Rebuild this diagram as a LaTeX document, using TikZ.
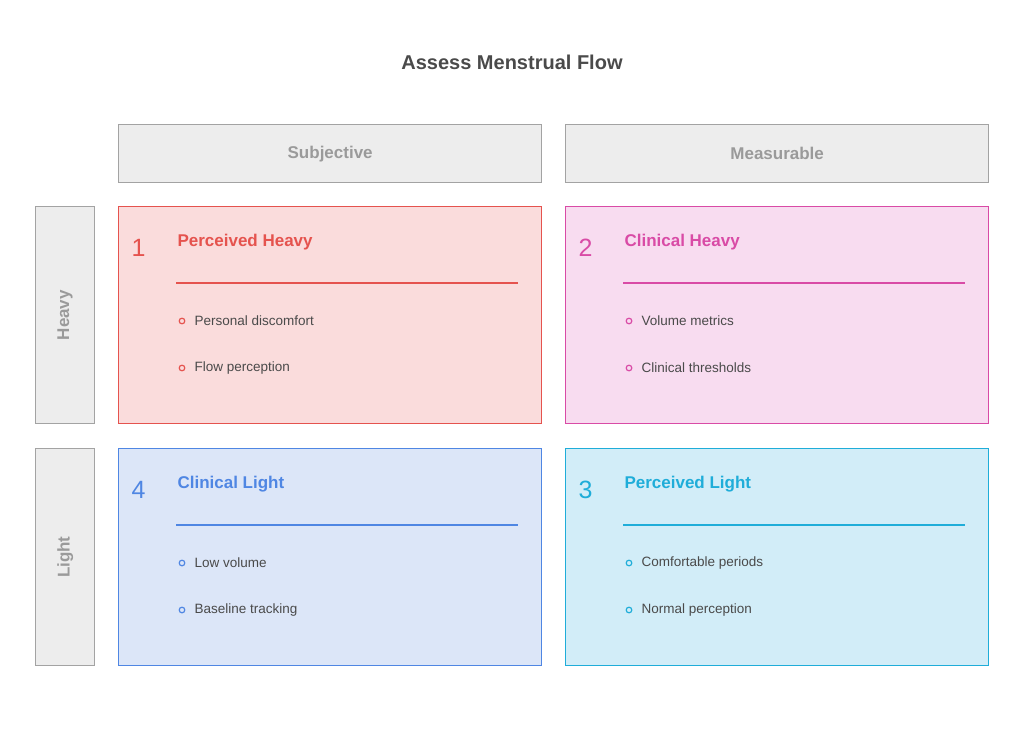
\documentclass[tikz,border=0pt]{standalone}
\usepackage{fontspec}
\setmainfont{Liberation Sans}
\usepackage{xcolor}
\usetikzlibrary{positioning}
\definecolor{hdrfill}{HTML}{EDEDED}
\definecolor{hdrline}{HTML}{A3A3A3}
\definecolor{hdrtext}{HTML}{9A9A9A}
\definecolor{qred}{HTML}{E5534E}
\definecolor{qredfill}{HTML}{FADCDC}
\definecolor{qpink}{HTML}{D94BA6}
\definecolor{qpinkfill}{HTML}{F8DCF0}
\definecolor{qblue}{HTML}{4F86E3}
\definecolor{qbluefill}{HTML}{DCE6F8}
\definecolor{qcyan}{HTML}{1FADD9}
\definecolor{qcyanfill}{HTML}{D2EDF8}
\definecolor{txtdark}{HTML}{4A4A4A}

\begin{document}
\begin{tikzpicture}[x=1pt, y=-1pt,
  hdr/.style={draw=hdrline, fill=hdrfill, line width=1.3pt, anchor=north west,
              font=\fontsize{17}{20}\selectfont\bfseries, text=hdrtext},
  quad/.style={line width=1.3pt, anchor=north west, minimum width=423pt, minimum height=217pt},
  qnum/.style={font=\fontsize{25}{28}\selectfont, anchor=west},
  qtitle/.style={font=\fontsize{17}{20}\selectfont\bfseries, anchor=west},
  item/.style={font=\fontsize{13.5}{16}\selectfont, text=txtdark, anchor=west},
]
  \useasboundingbox (0,0) rectangle (1024,736);

  % Title
  \node[font=\fontsize{20}{24}\selectfont\bfseries, text=txtdark] (title) at (512,62) {Assess Menstrual Flow};

  % Column headers
  \node[hdr, minimum width=423pt, minimum height=58pt] (colsub) at (118,124) {Subjective};
  \node[hdr, minimum width=423pt, minimum height=58pt] (colmea) at (565,124) {Measurable};

  % Row headers
  \node[hdr, minimum width=59pt, minimum height=217pt] (rowheavy) at (35,206) {};
  \node[font=\fontsize{17}{20}\selectfont\bfseries, text=hdrtext, rotate=90] at (rowheavy.center) {Heavy};
  \node[hdr, minimum width=59pt, minimum height=217pt] (rowlight) at (35,448) {};
  \node[font=\fontsize{17}{20}\selectfont\bfseries, text=hdrtext, rotate=90] at (rowlight.center) {Light};

  % Quadrants
  \foreach \x/\y/\c/\n/\t/\a/\b/\k in {
      118/206/qred/1/Perceived Heavy/Personal discomfort/Flow perception/ph,
      565/206/qpink/2/Clinical Heavy/Volume metrics/Clinical thresholds/ch,
      118/448/qblue/4/Clinical Light/Low volume/Baseline tracking/cl,
      565/448/qcyan/3/Perceived Light/Comfortable periods/Normal perception/pl} {
    \node[quad, draw=\c, fill=\c fill] (q\k) at (\x,\y) {};
    \node[qnum, text=\c] (q\k num) at (\x+10,\y+42) {\n};
    \node[qtitle, text=\c] (q\k title) at (\x+56,\y+36) {\t};
    \draw[\c, line width=1.3pt] (\x+58,\y+77) -- (\x+400,\y+77);
    \draw[\c, line width=1.2pt] (\x+64,\y+115) circle (2.8);
    \node[item] (q\k a) at (\x+73,\y+115) {\a};
    \draw[\c, line width=1.2pt] (\x+64,\y+162) circle (2.8);
    \node[item] (q\k b) at (\x+73,\y+162) {\b};
  }
\end{tikzpicture}
\end{document}
